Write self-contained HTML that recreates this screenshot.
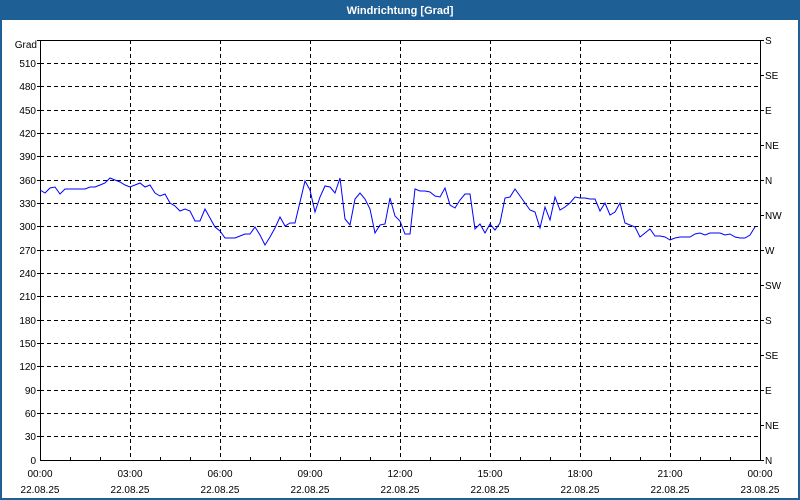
<!DOCTYPE html>
<html><head><meta charset="utf-8"><style>
html,body{margin:0;padding:0;background:#fff}
svg{display:block;font-family:"Liberation Sans",sans-serif}
</style></head><body>
<svg width="800" height="500" viewBox="0 0 800 500" xmlns="http://www.w3.org/2000/svg">
<rect x="0" y="0" width="800" height="500" fill="#fff"/>
<rect x="1" y="1" width="798" height="498" fill="none" stroke="#1e5f96" stroke-width="2"/>
<rect x="0" y="0" width="800" height="20" fill="#1e5f96"/>
<text x="400" y="14" fill="#fff" font-size="11" font-weight="bold" text-anchor="middle">Windrichtung [Grad]</text>
<g stroke="#000" stroke-width="1" stroke-dasharray="4,3" fill="none">
<path d="M40 63.5H760M40 86.5H760M40 110.5H760M40 133.5H760M40 156.5H760M40 180.5H760M40 203.5H760M40 226.5H760M40 250.5H760M40 273.5H760M40 296.5H760M40 320.5H760M40 343.5H760M40 366.5H760M40 390.5H760M40 413.5H760M40 436.5H760"/>
<path d="M130.5 40V460M220.5 40V460M310.5 40V460M400.5 40V460M490.5 40V460M580.5 40V460M670.5 40V460"/>
</g>
<g stroke="#000" stroke-width="1" fill="none">
<path d="M40.5 40V460.5H760.5V40M40 40.5H760"/>
<path d="M37 40.5H40M37 63.5H40M37 86.5H40M37 110.5H40M37 133.5H40M37 156.5H40M37 180.5H40M37 203.5H40M37 226.5H40M37 250.5H40M37 273.5H40M37 296.5H40M37 320.5H40M37 343.5H40M37 366.5H40M37 390.5H40M37 413.5H40M37 436.5H40"/>
<path d="M760 40.5H764M760 75.5H764M760 110.5H764M760 145.5H764M760 180.5H764M760 215.5H764M760 250.5H764M760 285.5H764M760 320.5H764M760 355.5H764M760 390.5H764M760 425.5H764M760 460.5H764"/>
<path d="M70.5 457V460M100.5 457V460M160.5 457V460M190.5 457V460M250.5 457V460M280.5 457V460M340.5 457V460M370.5 457V460M430.5 457V460M460.5 457V460M520.5 457V460M550.5 457V460M610.5 457V460M640.5 457V460M700.5 457V460M730.5 457V460"/>
</g>
<g font-size="10" fill="#000" text-anchor="end">
<text x="37" y="48">Grad</text>
<text x="36" y="67">510</text><text x="36" y="90">480</text><text x="36" y="114">450</text><text x="36" y="137">420</text><text x="36" y="160">390</text><text x="36" y="184">360</text><text x="36" y="207">330</text><text x="36" y="230">300</text><text x="36" y="254">270</text><text x="36" y="277">240</text><text x="36" y="300">210</text><text x="36" y="324">180</text><text x="36" y="347">150</text><text x="36" y="370">120</text><text x="36" y="394">90</text><text x="36" y="417">60</text><text x="36" y="440">30</text><text x="36" y="464">0</text>
</g>
<g font-size="10" fill="#000">
<text x="765" y="44">S</text><text x="765" y="79">SE</text><text x="765" y="114">E</text><text x="765" y="149">NE</text><text x="765" y="184">N</text><text x="765" y="219">NW</text><text x="765" y="254">W</text><text x="765" y="289">SW</text><text x="765" y="324">S</text><text x="765" y="359">SE</text><text x="765" y="394">E</text><text x="765" y="429">NE</text><text x="765" y="464">N</text>
</g>
<g font-size="10" fill="#000" text-anchor="middle">
<text x="40" y="477">00:00</text><text x="40" y="493">22.08.25</text>
<text x="130" y="477">03:00</text><text x="130" y="493">22.08.25</text>
<text x="220" y="477">06:00</text><text x="220" y="493">22.08.25</text>
<text x="310" y="477">09:00</text><text x="310" y="493">22.08.25</text>
<text x="400" y="477">12:00</text><text x="400" y="493">22.08.25</text>
<text x="490" y="477">15:00</text><text x="490" y="493">22.08.25</text>
<text x="580" y="477">18:00</text><text x="580" y="493">22.08.25</text>
<text x="670" y="477">21:00</text><text x="670" y="493">22.08.25</text>
<text x="760" y="477">00:00</text><text x="760" y="493">23.08.25</text>
</g>
<polyline fill="none" stroke="#0000ff" stroke-width="1" points="40,190 45,193 50,188 55,187 60,194 65,189 70,189 75,189 80,189 85,189 90,187 95,187 100,185 105,183 110,178 115,180 120,182 125,185 130,187 135,185 140,183 145,187 150,185 155,193 160,196 165,194 170,203 175,206 180,211 185,209 190,211 195,221 200,221 205,209 210,218 215,227 220,231 225,238 230,238 235,238 240,236 245,234 250,234 255,227 260,235 265,245 270,237 275,228 280,217 285,226 290,223 295,223 300,202 305,181 310,190 315,212 320,197 325,186 330,187 335,193 340,178 345,219 350,225 355,199 360,193 365,199 370,209 375,233 380,225 385,224 390,198 395,216 400,221 405,234 410,234 415,189 420,191 425,191 430,192 435,196 440,197 445,188 450,205 455,208 460,200 465,194 470,194 475,229 480,224 485,233 490,224 495,230 500,223 505,198 510,197 515,189 520,196 525,203 530,210 535,212 540,228 545,207 550,220 555,197 560,210 565,207 570,203 575,197 580,198 585,198 590,199 595,199 600,211 605,203 610,215 615,212 620,203 625,223 630,225 635,227 640,237 645,233 650,229 655,236 660,236 665,237 670,240 675,238 680,237 685,237 690,237 695,234 700,233 705,235 710,233 715,233 720,233 725,235 730,234 735,237 740,238 745,238 750,235 755,227"/>
</svg>
</body></html>
